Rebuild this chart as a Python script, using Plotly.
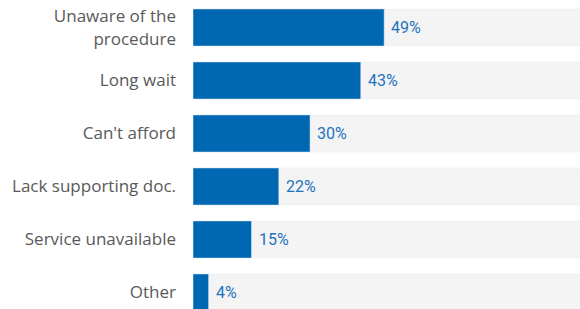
import plotly.graph_objects as go

categories = ["Unaware of the<br>procedure", "Long wait", "Can't afford",
              "Lack supporting doc.", "Service unavailable", "Other"]
values = [49, 43, 30, 22, 15, 4]
labels = ["49%", "43%", "30%", "22%", "15%", "4%"]
full = [100] * len(categories)

pos = list(range(len(categories)))

fig = go.Figure()
fig.add_trace(go.Bar(y=pos, x=full, orientation="h", marker_color="#f4f4f4",
                     width=0.7, hoverinfo="skip", showlegend=False))
fig.add_trace(go.Bar(y=pos, x=values, orientation="h", marker_color="#0068b3",
                     width=0.7, showlegend=False))
for p, v, t in zip(pos, values, labels):
    fig.add_annotation(x=v, y=p, text=t, xanchor="left", yanchor="middle",
                       xshift=5, showarrow=False,
                       font=dict(family="Roboto", size=16, color="#1f72bd"))

fig.update_layout(
    width=580, height=309, barmode="overlay",
    margin=dict(l=193, r=0, t=0, b=0),
    paper_bgcolor="white", plot_bgcolor="white",
    xaxis=dict(range=[0, 99.2], visible=False, fixedrange=True),
    yaxis=dict(range=[5.311, -0.519], tickmode="array", tickvals=pos,
               ticktext=categories, showgrid=False, zeroline=False,
               ticks="", ticklabelstandoff=16, fixedrange=True,
               tickfont=dict(family="Open Sans", size=17, color="#595959")),
)
fig.write_html("out.html", config={"displayModeBar": False},
               post_script="document.body.style.margin='0';document.body.style.overflow='hidden';")
